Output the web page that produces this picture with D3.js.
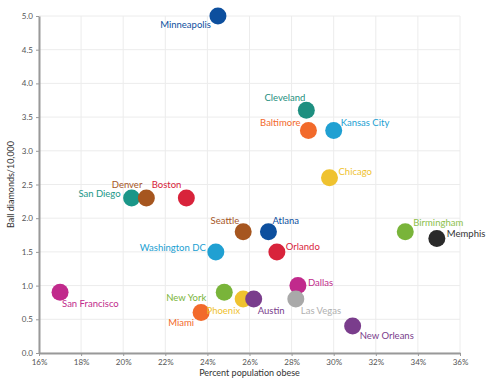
<!DOCTYPE html>
<html><head><meta charset="utf-8">
<script src="https://cdn.jsdelivr.net/npm/d3@7"></script>
<style>
body{margin:0;background:#fff;}
text{font-family:Lato,"Open Sans",sans-serif;}
</style></head>
<body><svg id="c" width="488" height="384"></svg>
<script>
const cities = ["Minneapolis","Cleveland","Baltimore","Kansas City","Chicago","San Diego","Denver","Boston","Seattle","Atlana","Washington DC","Orlando","Birmingham","Memphis","San Francisco","Dallas","New York","Phoenix","Austin","Las Vegas","Miami","New Orleans"];
const obese = [24.5,28.7,28.8,30.0,29.8,20.4,21.1,23.0,25.7,26.9,24.4,27.3,33.4,34.9,17.0,28.3,24.8,25.7,26.2,28.2,23.7,30.9];
const diamonds = [5.0,3.6,3.3,3.3,2.6,2.3,2.3,2.3,1.8,1.8,1.5,1.5,1.8,1.7,0.9,1.0,0.9,0.8,0.8,0.8,0.6,0.4];
const xTicks = [16,18,20,22,24,26,28,30,32,34,36];
const yTicks = [0,0.5,1,1.5,2,2.5,3,3.5,4,4.5,5];

// styles
const colors = {"Minneapolis":"#0d4f9e","Cleveland":"#1e8f80","Baltimore":"#f26a2b","Kansas City":"#20a0d2","Chicago":"#efc22f","San Diego":"#1a9688","Denver":"#a6561f","Boston":"#d8233b","Seattle":"#a6561f","Atlana":"#0d4f9e","Washington DC":"#20a0d2","Orlando":"#d8233b","Birmingham":"#79b43a","Memphis":"#2a2a2a","San Francisco":"#c12a8c","Dallas":"#c12a8c","New York":"#79b43a","Phoenix":"#efc22f","Austin":"#7a3d8c","Las Vegas":"#a9a9a9","Miami":"#f26a2b","New Orleans":"#7a3d8c"};
const labelColors = {"Birmingham":"#8cc04c","Las Vegas":"#b0b0b0","Memphis":"#333333"};
// label placement: [anchor, dx, dy]
const place = {"Minneapolis":["end",-7,12],"Cleveland":["end",-1,-9],"Baltimore":["end",-8,-5],"Kansas City":["start",7,-5],"Chicago":["start",9,-3],"San Diego":["end",-11,-1],"Denver":["end",-4,-10],"Boston":["end",-5,-10],"Seattle":["end",-4,-8],"Atlana":["start",4,-8],"Washington DC":["end",-10,-1],"Orlando":["start",9,-2],"Birmingham":["start",8,-6],"Memphis":["start",10,-1],"San Francisco":["start",2,15],"Dallas":["start",10,0],"New York":["end",-18,9],"Phoenix":["end",-3,15],"Austin":["start",4,15],"Las Vegas":["start",5,15],"Miami":["end",-7,13],"New Orleans":["start",7,13]};

const svg = d3.select("#c");
const m = {l:39,r:28,t:16,b:31};
const W = 488, H = 384;
const x = d3.scaleLinear().domain([16,36]).range([m.l, W-m.r]);
const y = d3.scaleLinear().domain([0,5]).range([H-m.b, m.t]);

// grid
svg.append("g").selectAll("line").data(xTicks).join("line")
  .attr("x1",d=>x(d)).attr("x2",d=>x(d)).attr("y1",y(0)).attr("y2",y(5))
  .attr("stroke","#ececec").attr("stroke-width",1);
svg.append("g").selectAll("line").data(yTicks).join("line")
  .attr("x1",x(16)).attr("x2",x(36)).attr("y1",d=>y(d)).attr("y2",d=>y(d))
  .attr("stroke","#ececec").attr("stroke-width",1);

const xAxis = svg.append("g").attr("transform",`translate(0,${y(0)})`)
  .call(d3.axisBottom(x).tickValues(xTicks).tickFormat(d=>d+"%").tickSize(3).tickSizeOuter(0));
const yAxis = svg.append("g").attr("transform",`translate(${x(16)},0)`)
  .call(d3.axisLeft(y).tickValues(yTicks).tickFormat(d3.format(".1f")).tickSize(3).tickSizeOuter(0));
[xAxis,yAxis].forEach(a=>{
  a.select(".domain").attr("stroke","#999").attr("stroke-width",2);
  a.selectAll(".tick line").attr("stroke","#999");
  a.selectAll(".tick text").attr("fill","#555").style("font-size","8px").style("font-family","Lato, sans-serif");
});

svg.append("text").attr("x",(x(16)+x(36))/2).attr("y",376).attr("text-anchor","middle")
  .attr("fill","#333").style("font-size","9px").text("Percent population obese");
svg.append("text").attr("transform",`translate(14,${(y(0)+y(5))/2}) rotate(-90)`).attr("text-anchor","middle")
  .attr("fill","#333").style("font-size","9px").text("Ball diamonds/10,000");

const data = cities.map((c,i)=>({c, x:obese[i], y:diamonds[i]}));
svg.append("g").selectAll("circle").data(data).join("circle")
  .attr("cx",d=>x(d.x)).attr("cy",d=>y(d.y)).attr("r",8.5)
  .attr("fill",d=>colors[d.c]);
svg.append("g").selectAll("text").data(data).join("text")
  .attr("x",d=>x(d.x)+place[d.c][1]).attr("y",d=>y(d.y)+place[d.c][2])
  .attr("text-anchor",d=>place[d.c][0])
  .attr("fill",d=>labelColors[d.c]||colors[d.c])
  .style("font-size","9.5px").style("font-weight","normal")
  .text(d=>d.c);
</script></body></html>
